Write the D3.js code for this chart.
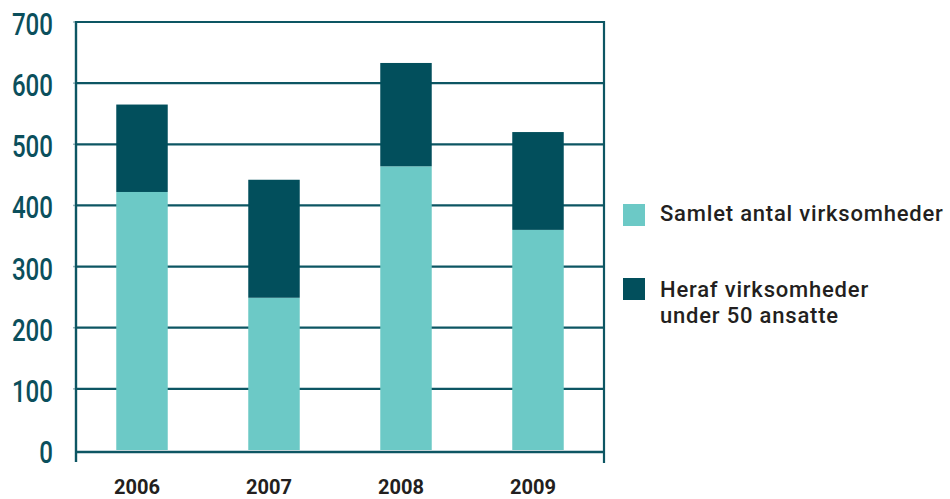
<!DOCTYPE html>
<html>
<head>
<meta charset="utf-8">
<script src="https://cdn.jsdelivr.net/npm/d3@7"></script>
<style>
  body { margin: 0; background: #fff; }
  svg { display: block; }
  .ylab { font-family: "Roboto", "Liberation Sans", sans-serif; font-weight: 500; font-size: 32px; fill: #0b4f5c; }
  .xlab { font-family: "Roboto", "Liberation Sans", sans-serif; font-weight: bold; font-size: 21px; fill: #231f20; }
  .leg { font-family: "Roboto", "Liberation Sans", sans-serif; font-weight: 500; font-size: 22px; letter-spacing: 0.8px; fill: #231f20; }
</style>
</head>
<body>
<div id="chart"></div>
<script>
// values
const years = ["2006", "2007", "2008", "2009"];
const samletAntal = [422, 249, 464, 360];     // light part of each bar
const herafUnder50 = [143, 193, 169, 160];    // dark part stacked on top
const yTicks = [0, 100, 200, 300, 400, 500, 600, 700];
const legendLabels = [["Samlet antal virksomheder"], ["Heraf virksomheder", "under 50 ansatte"]];

const lightColor = "#6cc9c6";
const darkColor = "#024f5c";
const lineColor = "#0d5663";

const width = 950, height = 499;
const plotLeft = 76, plotRight = 604, plotTop = 22, plotBottom = 450;

const svg = d3.select("#chart").append("svg")
  .attr("width", width)
  .attr("height", height);

const x = d3.scaleBand()
  .domain(years)
  .range([plotLeft, plotRight])
  .paddingInner(0.61)
  .paddingOuter(0.305);

const y = d3.scaleLinear()
  .domain([0, 700])
  .range([plotBottom, plotTop]);

// gridlines (700 line is the top of the box)
svg.append("g")
  .selectAll("line")
  .data(yTicks.filter(d => d > 0))
  .join("line")
  .attr("x1", plotLeft).attr("x2", plotRight)
  .attr("y1", d => y(d)).attr("y2", d => y(d))
  .attr("stroke", lineColor)
  .attr("stroke-width", 2.2);

// little ticks left of the axis
svg.append("g")
  .selectAll("line")
  .data(yTicks.filter(d => d > 0))
  .join("line")
  .attr("x1", plotLeft - 3).attr("x2", plotLeft)
  .attr("y1", d => y(d)).attr("y2", d => y(d))
  .attr("stroke", "#9bb8bd")
  .attr("stroke-width", 1.5);

// stacked bars
const rows = years.map((yr, i) => ({ year: yr, samlet: samletAntal[i], heraf: herafUnder50[i] }));
const stack = d3.stack().keys(["samlet", "heraf"]);
const series = stack(rows);
const colors = { samlet: lightColor, heraf: darkColor };

svg.append("g")
  .selectAll("g")
  .data(series)
  .join("g")
  .attr("fill", d => colors[d.key])
  .selectAll("rect")
  .data(d => d)
  .join("rect")
  .attr("x", d => x(d.data.year))
  .attr("width", x.bandwidth())
  .attr("y", d => y(d[1]))
  .attr("height", d => y(d[0]) - y(d[1]));

// box: left axis, right border, baseline
svg.append("line")
  .attr("x1", plotLeft).attr("x2", plotLeft)
  .attr("y1", plotTop - 1).attr("y2", plotBottom + 12)
  .attr("stroke", lineColor).attr("stroke-width", 2.4);
svg.append("line")
  .attr("x1", plotRight).attr("x2", plotRight)
  .attr("y1", plotTop - 1).attr("y2", plotBottom + 13)
  .attr("stroke", lineColor).attr("stroke-width", 2.2);
svg.append("line")
  .attr("x1", plotLeft).attr("x2", plotRight)
  .attr("y1", plotBottom + 2).attr("y2", plotBottom + 2)
  .attr("stroke", lineColor).attr("stroke-width", 2.4);

// y labels (condensed look like the original)
svg.append("g")
  .selectAll("text")
  .data(yTicks)
  .join("text")
  .attr("class", "ylab")
  .attr("x", 53)
  .attr("y", d => y(d) + 13)
  .attr("text-anchor", "end")
  .attr("textLength", d => String(d).length * 13.7)
  .attr("lengthAdjust", "spacingAndGlyphs")
  .text(d => d);

// year labels
svg.append("g")
  .selectAll("text")
  .data(years)
  .join("text")
  .attr("class", "xlab")
  .attr("x", d => x(d) + x.bandwidth() / 2 - 5)
  .attr("y", 494)
  .attr("text-anchor", "middle")
  .attr("textLength", 46)
  .attr("lengthAdjust", "spacingAndGlyphs")
  .text(d => d);

// legend
const legend = svg.append("g");
const legY = [204, 278];
const legBase = [221, 297];
legend.selectAll("rect")
  .data([lightColor, darkColor])
  .join("rect")
  .attr("x", 623)
  .attr("y", (d, i) => legY[i])
  .attr("width", 22)
  .attr("height", 22)
  .attr("fill", d => d);

legendLabels.forEach((lines, i) => {
  const t = legend.append("text")
    .attr("class", "leg")
    .attr("x", 660)
    .attr("y", legBase[i]);
  lines.forEach((ln, j) => {
    t.append("tspan")
      .attr("x", 660)
      .attr("dy", j === 0 ? 0 : 26)
      .text(ln);
  });
});
</script>
</body>
</html>
